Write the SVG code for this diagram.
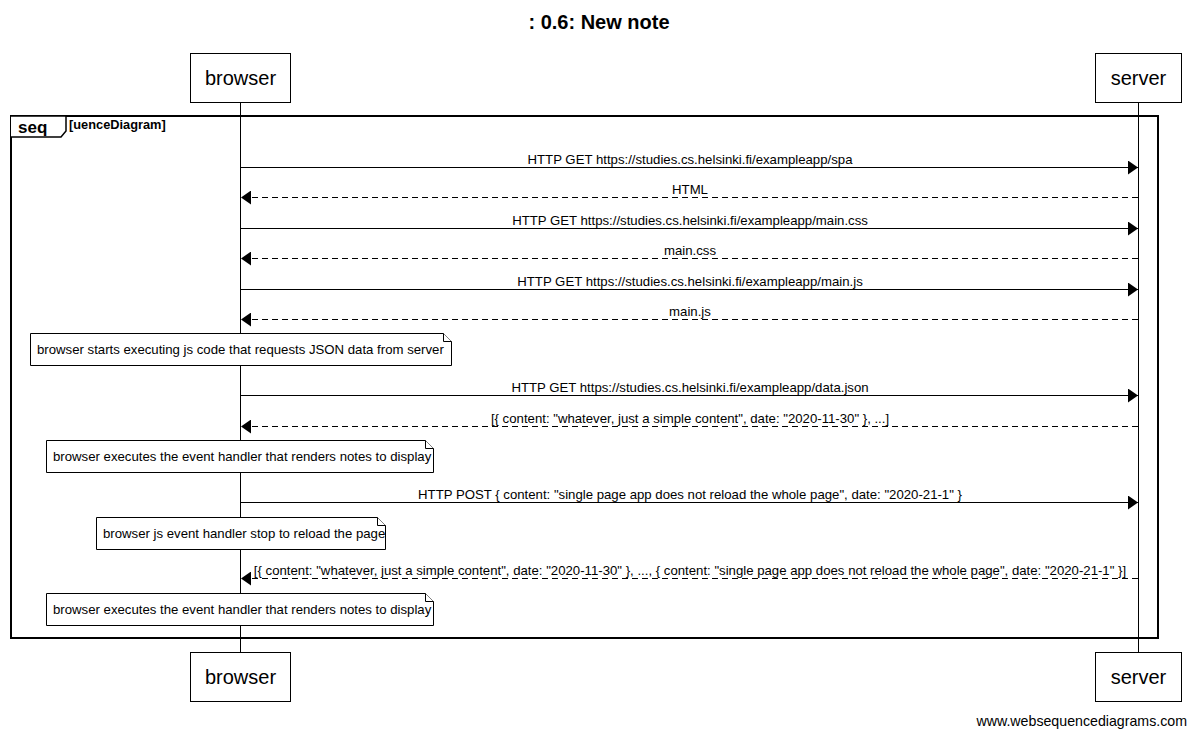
<svg xmlns="http://www.w3.org/2000/svg" width="1196" height="736" viewBox="0 0 1196 736">
<style>
text{font-family:"Liberation Sans",Arial,sans-serif;fill:#000}
.box{fill:#fff;stroke:#000;stroke-width:1}
.pt{font-size:20px;text-anchor:middle}
.lbl{font-size:13.2px;text-anchor:middle}
.nt{font-size:13.2px}
.life{stroke:#000;stroke-width:1}
.msg{stroke:#000;stroke-width:1;fill:none}
.dash{stroke-dasharray:6,4}
.note{fill:#fff;stroke:#000;stroke-width:1}
</style>
<defs>
<marker id="ah" viewBox="0 0 10 14" refX="10" refY="7" markerWidth="10" markerHeight="14" markerUnits="userSpaceOnUse" orient="auto">
<path d="M0,0 L10,7 L0,14 Z" fill="#000"/>
</marker>
</defs>
<rect width="1196" height="736" fill="#fff"/>
<text x="599" y="29" style="font-size:20px;font-weight:bold;text-anchor:middle">: 0.6: New note</text>

<g id="lifelines">
<line class="life" x1="240.5" y1="102" x2="240.5" y2="652"/>
<line class="life" x1="1138.5" y1="102" x2="1138.5" y2="652"/>
</g>

<g id="frame">
<rect x="11" y="116" width="1147" height="522" fill="none" stroke="#000" stroke-width="2"/>
<path d="M11,116 L66,116 L66,131 L61,137 L11,137" fill="#fff" stroke="#000" stroke-width="1.5"/>
<text x="18" y="133" style="font-size:17px;font-weight:bold">seq</text>
<text x="69" y="129" style="font-size:12.8px;font-weight:bold">[uenceDiagram]</text>
</g>

<g id="browser-top"><rect class="box" x="190.5" y="53.5" width="100" height="49"/><text class="pt" x="240.5" y="85">browser</text></g>
<g id="server-top"><rect class="box" x="1095.5" y="53.5" width="86" height="49"/><text class="pt" x="1138.5" y="85">server</text></g>
<g id="browser-bottom"><rect class="box" x="190.5" y="652.5" width="100" height="49"/><text class="pt" x="240.5" y="684">browser</text></g>
<g id="server-bottom"><rect class="box" x="1095.5" y="652.5" width="86" height="49"/><text class="pt" x="1138.5" y="684">server</text></g>

<g id="connectors">
<line class="msg" x1="241" y1="167.5" x2="1138" y2="167.5" marker-end="url(#ah)"/>
<text class="lbl" x="690" y="164">HTTP GET https://studies.cs.helsinki.fi/exampleapp/spa</text>
<line class="msg dash" x1="1138" y1="197.5" x2="241" y2="197.5" marker-end="url(#ah)"/>
<text class="lbl" x="690" y="194">HTML</text>
<line class="msg" x1="241" y1="228.5" x2="1138" y2="228.5" marker-end="url(#ah)"/>
<text class="lbl" x="690" y="225">HTTP GET https://studies.cs.helsinki.fi/exampleapp/main.css</text>
<line class="msg dash" x1="1138" y1="258.5" x2="241" y2="258.5" marker-end="url(#ah)"/>
<text class="lbl" x="690" y="255">main.css</text>
<line class="msg" x1="241" y1="289.5" x2="1138" y2="289.5" marker-end="url(#ah)"/>
<text class="lbl" x="690" y="286">HTTP GET https://studies.cs.helsinki.fi/exampleapp/main.js</text>
<line class="msg dash" x1="1138" y1="319.5" x2="241" y2="319.5" marker-end="url(#ah)"/>
<text class="lbl" x="690" y="316">main.js</text>
<line class="msg" x1="241" y1="395.5" x2="1138" y2="395.5" marker-end="url(#ah)"/>
<text class="lbl" x="690" y="392">HTTP GET https://studies.cs.helsinki.fi/exampleapp/data.json</text>
<line class="msg dash" x1="1138" y1="426.5" x2="241" y2="426.5" marker-end="url(#ah)"/>
<text class="lbl" x="690" y="423">[{ content: "whatever, just a simple content", date: "2020-11-30" }, ...]</text>
<line class="msg" x1="241" y1="502.5" x2="1138" y2="502.5" marker-end="url(#ah)"/>
<text class="lbl" x="690" y="499">HTTP POST { content: "single page app does not reload the whole page", date: "2020-21-1" }</text>
<line class="msg dash" x1="1138" y1="578.5" x2="241" y2="578.5" marker-end="url(#ah)"/>
<text class="lbl" x="690" y="575">[{ content: "whatever, just a simple content", date: "2020-11-30" }, ..., { content: "single page app does not reload the whole page", date: "2020-21-1" }]</text>
</g>

<g id="note1">
<path class="note" d="M30.5,333.5 H443.5 L451.5,341.5 V365.5 H30.5 Z"/>
<path class="note" d="M443.5,333.5 V341.5 H451.5" fill="none"/>
<text class="nt" x="37" y="354">browser starts executing js code that requests JSON data from server</text>
</g>
<g id="note2">
<path class="note" d="M46.5,440.5 H425.5 L433.5,448.5 V472.5 H46.5 Z"/>
<path class="note" d="M425.5,440.5 V448.5 H433.5" fill="none"/>
<text class="nt" x="53" y="461">browser executes the event handler that renders notes to display</text>
</g>
<g id="note3">
<path class="note" d="M96.5,517.5 H377.5 L385.5,525.5 V549.5 H96.5 Z"/>
<path class="note" d="M377.5,517.5 V525.5 H385.5" fill="none"/>
<text class="nt" x="103" y="538">browser js event handler stop to reload the page</text>
</g>
<g id="note4">
<path class="note" d="M46.5,593.5 H425.5 L433.5,601.5 V625.5 H46.5 Z"/>
<path class="note" d="M425.5,593.5 V601.5 H433.5" fill="none"/>
<text class="nt" x="53" y="614">browser executes the event handler that renders notes to display</text>
</g>

<text x="1187" y="726" style="font-size:14.2px;text-anchor:end">www.websequencediagrams.com</text>
</svg>
